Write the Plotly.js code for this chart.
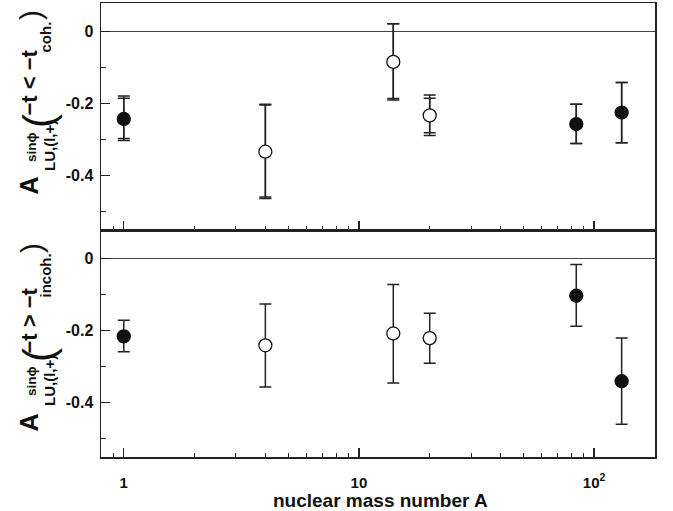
<!DOCTYPE html>
<html>
<head>
<meta charset="utf-8">
<script src="https://cdn.plot.ly/plotly-3.0.1.min.js"></script>
<style>html,body{margin:0;padding:0;background:#fff;}</style>
</head>
<body>
<div id="chart" style="width:673px;height:511px;"></div>
<script>
// ---- data ----
const targets = ['H', 'He', 'N', 'Ne', 'Kr', 'Xe'];
const massNumber = [1, 4, 14, 20, 84, 131];
const filledTargets = ['H', 'Kr', 'Xe'];

// upper panel: -t < -t_coh.
const cohValue = [-0.243, -0.334, -0.084, -0.233, -0.257, -0.225];
const cohErrPlus = [0.064, 0.132, 0.106, 0.057, 0.055, 0.084];
const cohErrMinus = [0.060, 0.130, 0.106, 0.056, 0.054, 0.084];
const cohErrPlus2 = [0.058, 0.130, 0.106, 0.048, 0.055, 0.084];
const cohErrMinus2 = [0.054, 0.126, 0.102, 0.048, 0.054, 0.084];

// lower panel: -t > -t_incoh.
const incohValue = [-0.216, -0.241, -0.208, -0.221, -0.103, -0.341];
const incohErrPlus = [0.045, 0.115, 0.136, 0.069, 0.087, 0.120];
const incohErrMinus = [0.043, 0.116, 0.138, 0.070, 0.085, 0.120];

const xTickVals = [1, 10, 100];
const xTickText = ['1', '10', '10<sup>2</sup>'];
const xMinorVals = [0.9, 2, 3, 4, 5, 6, 7, 8, 9, 20, 30, 40, 50, 60, 70, 80, 90];
const yTickVals = [-0.4, -0.2, 0];
const yTickText = ['-0.4', '-0.2', '0'];
const yMinorVals = [-0.5, -0.3, -0.1];

// ---- styling ----
const FONT = '"Liberation Sans", Arial, Helvetica, sans-serif';
const fillColors = targets.map(t => filledTargets.includes(t) ? '#111' : '#fff');
const bold = s => '<b>' + s + '</b>';

function errTrace(vals, plus, minus, xa, ya, showMarkers) {
  return {
    x: massNumber, y: vals, xaxis: xa, yaxis: ya,
    type: 'scatter', mode: 'markers', showlegend: false, hoverinfo: 'skip',
    marker: showMarkers
      ? {size: 13, color: fillColors, line: {color: '#111', width: 1.3}}
      : {size: 1, opacity: 0},
    error_y: {type: 'data', symmetric: false, array: plus, arrayminus: minus,
              color: '#222', thickness: 1.5, width: 6}
  };
}

const traces = [
  errTrace(cohValue, cohErrPlus2, cohErrMinus2, 'x2', 'y2', false),
  errTrace(cohValue, cohErrPlus, cohErrMinus, 'x2', 'y2', true),
  errTrace(incohValue, incohErrPlus, incohErrMinus, 'x', 'y', true)
];

const xBase = {
  type: 'log', range: [Math.log10(0.8), Math.log10(181.6)],
  showgrid: false, zeroline: false,
  showline: true, mirror: true, linecolor: '#222', linewidth: 1.5,
  ticks: 'inside', ticklen: 9, tickwidth: 1.2, tickcolor: '#222',
  tickmode: 'array', tickvals: xTickVals, ticktext: xTickText.map(bold),
  tickfont: {family: FONT, size: 15, color: '#111'},
  ticklabelstandoff: 11,
  minor: {tickmode: 'array', tickvals: xMinorVals, ticks: 'inside', ticklen: 4.5,
          tickwidth: 1, tickcolor: '#222', showgrid: false}
};
const yBase = {
  range: [-0.552, 0.08], showgrid: false,
  zeroline: true, zerolinecolor: '#444', zerolinewidth: 1,
  showline: true, mirror: true, linecolor: '#222', linewidth: 1.5,
  ticks: 'inside', ticklen: 9, tickwidth: 1.2, tickcolor: '#222',
  tickmode: 'array', tickvals: yTickVals, ticktext: yTickText.map(bold),
  tickfont: {family: FONT, size: 16, color: '#111'},
  ticklabelstandoff: 3,
  minor: {tickmode: 'array', tickvals: yMinorVals, ticks: 'inside', ticklen: 4.5,
          tickwidth: 1, tickcolor: '#222', showgrid: false}
};

const ML = 101, MR = 18, MT = 3, MB = 54, W = 673, H = 511;
const PW = W - ML - MR, PH = H - MT - MB;
const px = v => (v - ML) / PW;
const py = v => (H - MB - v) / PH;

function label(text, cx, cy, size, isBold) {
  return {text: isBold ? bold(text) : text, xref: 'paper', yref: 'paper', x: px(cx), y: py(cy),
          xanchor: 'center', yanchor: 'middle', showarrow: false, textangle: -90,
          font: {family: FONT, size: size, color: '#111'}};
}

// y-title pieces: [A-center-y, sin-y, LU-y, open-paren-y, main-y, sub-y, close-paren-y]
function yTitle(pos, relation, sub) {
  return [
    label('A', 28.5, pos[0], 25, true),
    label('sin\u03D5', 31, pos[1], 13.5, true),
    label('LU,(l,+)', 49, pos[2], 15, true),
    label('(', 38, pos[3], 42, false),
    label('\u2212t ' + relation + ' \u2212t', 28.5, pos[4], 22, true),
    label(sub, 44.5, pos[5], 15, true),
    label(')', 31, pos[6], 30, false)
  ];
}

const annotations = [].concat(
  yTitle([186, 147, 146, 121, 83, 37, 15], '<', 'coh.'),
  yTitle([423, 381, 381, 355, 321, 276, 248], '>', 'incoh.'),
  [{text: bold('nuclear mass number A'), xref: 'paper', yref: 'paper',
    x: px(380), y: py(500), xanchor: 'center', yanchor: 'middle', showarrow: false,
    font: {family: FONT, size: 19, color: '#111'}}]
);

const layout = {
  width: W, height: H,
  margin: {l: ML, r: MR, t: MT, b: MB, pad: 0},
  paper_bgcolor: '#fff', plot_bgcolor: '#fff',
  showlegend: false,
  xaxis: Object.assign({}, xBase, {anchor: 'y', domain: [0, 1]}),
  xaxis2: Object.assign({}, xBase, {anchor: 'y2', domain: [0, 1], matches: 'x', showticklabels: false}),
  yaxis: Object.assign({}, yBase, {anchor: 'x', domain: [0, 0.5]}),
  yaxis2: Object.assign({}, yBase, {anchor: 'x2', domain: [0.5, 1]}),
  annotations: annotations
};

Plotly.newPlot('chart', traces, layout, {staticPlot: true, displayModeBar: false});
</script>
</body>
</html>
